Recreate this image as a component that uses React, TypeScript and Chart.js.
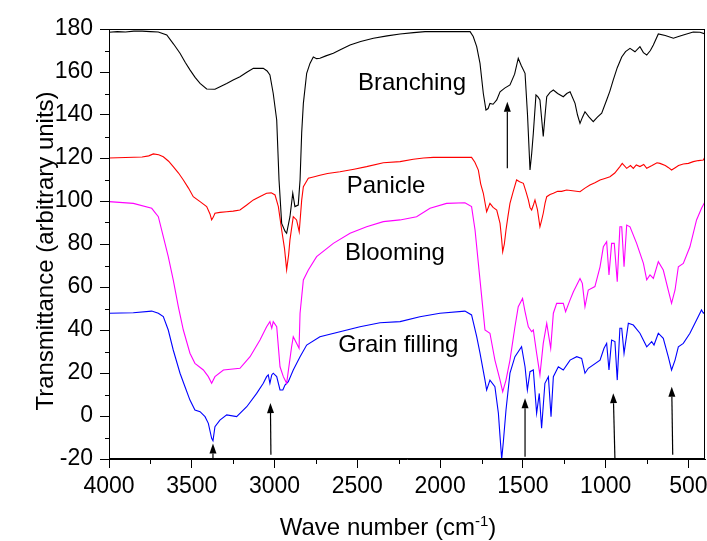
import React, { useEffect, useRef } from 'react';
import { Chart, registerables } from 'chart.js';

Chart.register(...registerables);

const FONT = '"Liberation Sans", Arial, Helvetica, sans-serif';

const xTicks = [4000, 3500, 3000, 2500, 2000, 1500, 1000, 500];
const xMinorTicks = [3750, 3250, 2750, 2250, 1750, 1250, 750];
const yTicks = [-20, 0, 20, 40, 60, 80, 100, 120, 140, 160, 180];
const yMinorTicks = [-10, 10, 30, 50, 70, 90, 110, 130, 150, 170];

const branchingX = [4000, 3950, 3900, 3850, 3800, 3750, 3702, 3651, 3610, 3571, 3540, 3511, 3480, 3450, 3410, 3360, 3320, 3289, 3250, 3209, 3170, 3128, 3068, 3045, 3028, 3008, 2987, 2973, 2957, 2937, 2927, 2907, 2890, 2877, 2857, 2846, 2836, 2826, 2806, 2786, 2766, 2746, 2726, 2690, 2645, 2600, 2544, 2480, 2403, 2320, 2242, 2160, 2091, 2000, 1900, 1819, 1800, 1779, 1759, 1739, 1723, 1710, 1699, 1680, 1658, 1638, 1610, 1578, 1550, 1528, 1510, 1487, 1472, 1457, 1447, 1437, 1421, 1410, 1397, 1377, 1366, 1356, 1336, 1316, 1290, 1256, 1235, 1215, 1185, 1170, 1155, 1140, 1125, 1100, 1075, 1050, 1024, 994, 975, 954, 930, 903, 880, 853, 823, 793, 772, 752, 730, 712, 682, 640, 591, 560, 531, 471, 430, 400];
const branchingY = [178.5, 178.8, 178.6, 179, 179, 178.8, 178.6, 177.2, 173, 168.7, 164.5, 161, 157.5, 154.7, 152.1, 152, 153.5, 154.7, 156.3, 157.8, 159.8, 161.7, 161.7, 160.5, 158.6, 150, 137.7, 109.8, 89.6, 86, 85, 92.7, 103.6, 97.4, 98.1, 109.8, 132, 145.4, 159.4, 164, 167, 166.2, 166.4, 167.5, 168.7, 170.5, 172.6, 174.2, 175.7, 176.8, 177.7, 178.3, 178.8, 178.8, 178.8, 178.8, 176.5, 171.8, 164, 150, 142.3, 143, 145.4, 145, 147, 150.8, 152.5, 154, 159, 166.4, 163, 159.4, 140, 114.4, 122, 131.5, 149.3, 148.5, 147, 130, 140, 148.5, 150.5, 151.6, 150, 148.5, 150, 150.8, 145.4, 140, 136.1, 139, 141.5, 139, 136.9, 139, 140.8, 147, 151, 156.3, 162, 167, 169.5, 171, 169.4, 171.8, 169, 167.9, 170, 172.6, 177.7, 177, 175.7, 176.5, 177.2, 178.6, 178.5, 177.7];

const panicleX = [4000, 3900, 3800, 3760, 3732, 3700, 3672, 3640, 3612, 3580, 3551, 3520, 3491, 3450, 3410, 3390, 3380, 3370, 3360, 3330, 3289, 3250, 3209, 3170, 3128, 3090, 3048, 3020, 2997, 2977, 2957, 2940, 2927, 2915, 2907, 2887, 2867, 2851, 2836, 2826, 2796, 2760, 2726, 2680, 2605, 2520, 2444, 2343, 2242, 2162, 2100, 2041, 1900, 1810, 1790, 1769, 1755, 1739, 1719, 1709, 1699, 1680, 1658, 1638, 1628, 1622, 1612, 1602, 1590, 1578, 1560, 1538, 1520, 1497, 1480, 1467, 1457, 1447, 1437, 1427, 1412, 1397, 1387, 1377, 1366, 1356, 1336, 1316, 1290, 1266, 1236, 1200, 1155, 1125, 1095, 1065, 1034, 1005, 974, 945, 914, 900, 873, 850, 833, 815, 793, 770, 752, 720, 690, 672, 640, 620, 602, 580, 560, 531, 500, 471, 440, 410, 400];
const panicleY = [120, 120.2, 120.5, 121, 121.9, 121.5, 120.6, 118.5, 116, 113, 109.8, 106, 102, 99.7, 97.4, 94, 91.2, 92.5, 94.3, 94.7, 95, 95.3, 95.8, 98, 100.5, 102, 103.6, 103.8, 102.8, 97.4, 86.5, 78, 68, 75, 81.9, 92.7, 91.2, 85.7, 100.5, 106.7, 110.6, 111.3, 112, 112.8, 113.6, 114.8, 116, 117.8, 118.3, 119.4, 120, 120.3, 120.3, 120.3, 118, 114.4, 108, 103.6, 95, 97, 98.9, 97, 95.8, 89.6, 82, 76.4, 80, 86.5, 93, 98.9, 104, 109.8, 109, 108.2, 104, 100.5, 97, 95.8, 98, 100.5, 96, 88, 91, 94.3, 99, 102, 103, 103.6, 104.5, 104.5, 105.1, 104.8, 104.3, 106, 107.4, 108.5, 109.8, 110.5, 111.3, 113, 116, 117.5, 115.2, 116.5, 115.2, 116.8, 116, 117, 115.2, 116.5, 117.8, 117.5, 116.5, 115.5, 114.4, 115.5, 116.5, 117.2, 117.5, 118.3, 118.8, 119.1, 120.6];

const bloomingX = [4000, 3853, 3742, 3702, 3672, 3642, 3612, 3581, 3551, 3511, 3481, 3430, 3400, 3380, 3360, 3309, 3209, 3148, 3088, 3048, 3028, 3017, 3008, 2987, 2967, 2947, 2927, 2897, 2887, 2867, 2852, 2846, 2826, 2796, 2746, 2645, 2544, 2444, 2343, 2242, 2142, 2061, 1961, 1850, 1810, 1789, 1769, 1749, 1729, 1699, 1669, 1638, 1622, 1602, 1578, 1548, 1528, 1502, 1487, 1467, 1447, 1437, 1417, 1397, 1377, 1356, 1332, 1316, 1296, 1256, 1242, 1215, 1195, 1155, 1141, 1125, 1105, 1065, 1034, 1014, 994, 980, 964, 948, 930, 914, 903, 889, 873, 853, 813, 772, 752, 732, 712, 682, 652, 622, 602, 581, 561, 531, 491, 451, 421, 400];
const bloomingY = [99.7, 98.9, 96.6, 92.7, 83.4, 74.1, 63.3, 50.8, 40, 29.2, 24.5, 21.4, 18.3, 15.2, 18.3, 21.4, 22.2, 27.6, 35.3, 41.5, 43.9, 40.8, 43.9, 41.5, 22.9, 18.3, 15.2, 32.2, 36.9, 33.8, 31.5, 47.8, 63.3, 67.9, 74.1, 80.3, 85, 88, 90.4, 91.2, 92.7, 96.6, 98.9, 99.2, 97.4, 86.5, 71, 55.5, 40, 38.5, 26, 16.7, 11.3, 16.7, 26, 41.5, 50.8, 54.7, 48.5, 41.5, 39.2, 40, 29.2, 19.1, 33.8, 43.1, 31.5, 47.8, 52.4, 52.4, 48.5, 54, 57.8, 64, 61.7, 50.8, 58.6, 60.2, 69.4, 78.7, 81.1, 65.6, 80.3, 80.3, 62.5, 88, 88, 69.4, 88.8, 88, 80.3, 71, 63.3, 65.6, 64, 71.8, 67.9, 58.6, 52.4, 58.6, 69.4, 71, 78.7, 91.2, 96.6, 99.7];

const grainX = [4000, 3853, 3742, 3702, 3672, 3642, 3612, 3571, 3541, 3511, 3481, 3450, 3420, 3400, 3380, 3372, 3360, 3330, 3289, 3229, 3168, 3108, 3068, 3048, 3038, 3028, 3017, 3008, 2987, 2967, 2950, 2937, 2917, 2887, 2846, 2806, 2726, 2605, 2484, 2363, 2242, 2122, 2001, 1850, 1810, 1779, 1759, 1729, 1719, 1699, 1669, 1648, 1638, 1628, 1618, 1602, 1578, 1548, 1508, 1487, 1473, 1457, 1437, 1417, 1401, 1387, 1367, 1346, 1330, 1316, 1286, 1256, 1215, 1175, 1145, 1125, 1105, 1034, 1010, 994, 980, 964, 944, 930, 914, 903, 889, 863, 833, 793, 752, 722, 708, 682, 652, 622, 602, 581, 561, 531, 491, 451, 421, 410, 400];
const grainY = [47.8, 48, 48.8, 47.8, 46.2, 40, 30.7, 19.9, 13.6, 7.4, 2.8, 2, -0.3, -3.4, -10.4, -11.5, -5, -1.9, 0.5, -0.3, 4.3, 10.5, 15.2, 18.3, 19.1, 15.2, 19.1, 19.9, 18.3, 12.1, 12.1, 14.4, 16, 21.4, 27.6, 33, 36.9, 39.2, 41.5, 43.4, 43.9, 46.2, 47.8, 48.8, 47, 36.9, 29.2, 16.7, 12.1, 16.7, 13.6, 1.3, -9.6, -20, -12, 2.8, 19.9, 27.6, 32.2, 22.9, 12.1, 20.6, 21.4, 1.3, 10.5, -5.7, 15.2, 18.3, -0.3, 18.3, 22.9, 21.4, 26, 27.6, 26.8, 19.9, 22.2, 26, 31.5, 33.8, 21.4, 35.3, 34.6, 16.7, 40.8, 40.8, 29.2, 43.1, 42.3, 38.5, 32.2, 34.6, 33, 38.5, 36.1, 27.6, 21.4, 26, 32.2, 33.8, 38.5, 44.7, 49.3, 47.8, 48.5];

const seriesNames = ['Branching', 'Panicle', 'Blooming', 'Grain filling'];
const seriesColors = ['#000000', '#ff0000', '#ff00ff', '#0000ff'];

// text annotations: wave number of left edge, transmittance of baseline
const labelWn = [2496, 2564, 2575, 2615];
const labelT = [151.6, 103.6, 72.6, 29.9];

// arrows: [wn at tail, T at tail, wn at head, T at head]
const arrowTailWn = [1594, 3372, 3022, 1487, 944, 595];
const arrowTailT = [115.2, -20, -18, -19, -20, -18];
const arrowHeadWn = [1594, 3372, 3025, 1487, 954, 601];
const arrowHeadT = [146.2, -12.8, 6.0, 8.2, 10.6, 13.6];

const toPoints = (xs: number[], ys: number[]) => xs.map((x, i) => ({ x, y: ys[i] }));

const decorPlugin = {
  id: 'decor',
  afterDraw(chart: any) {
    const { ctx, chartArea: a, scales } = chart;
    const xs = scales.x;
    const ys = scales.y;
    ctx.save();
    // frame
    ctx.strokeStyle = '#000';
    ctx.lineWidth = 1;
    ctx.strokeRect(Math.round(a.left) + 0.5, Math.round(a.top) + 0.5, Math.round(a.right - a.left) - 1, Math.round(a.bottom - a.top) - 1);
    // minor ticks
    ctx.beginPath();
    yMinorTicks.forEach((v) => {
      const y = Math.round(ys.getPixelForValue(v)) + 0.5;
      ctx.moveTo(a.left - 4, y);
      ctx.lineTo(a.left, y);
    });
    xMinorTicks.forEach((v) => {
      const x = Math.round(xs.getPixelForValue(v)) + 0.5;
      ctx.moveTo(x, a.bottom);
      ctx.lineTo(x, a.bottom + 5);
    });
    ctx.stroke();
    // labels
    ctx.fillStyle = '#000';
    ctx.font = `24px ${FONT}`;
    ctx.textAlign = 'left';
    ctx.textBaseline = 'alphabetic';
    seriesNames.forEach((n, i) => {
      ctx.fillText(n, xs.getPixelForValue(labelWn[i]), ys.getPixelForValue(labelT[i]));
    });
    // arrows
    arrowTailWn.forEach((_, i) => {
      const x0 = xs.getPixelForValue(arrowTailWn[i]);
      const y0 = ys.getPixelForValue(arrowTailT[i]);
      const x1 = xs.getPixelForValue(arrowHeadWn[i]);
      const y1 = ys.getPixelForValue(arrowHeadT[i]);
      const ang = Math.atan2(y1 - y0, x1 - x0);
      const hl = 10;
      const hw = 3.5;
      const bx = x1 - hl * Math.cos(ang);
      const by = y1 - hl * Math.sin(ang);
      ctx.beginPath();
      ctx.moveTo(x0, y0);
      ctx.lineTo(bx, by);
      ctx.lineWidth = 1.2;
      ctx.stroke();
      ctx.beginPath();
      ctx.moveTo(x1, y1);
      ctx.lineTo(bx + hw * Math.sin(ang), by - hw * Math.cos(ang));
      ctx.lineTo(bx - hw * Math.sin(ang), by + hw * Math.cos(ang));
      ctx.closePath();
      ctx.fill();
    });
    // y title
    ctx.save();
    ctx.translate(53, 251);
    ctx.rotate(-Math.PI / 2);
    ctx.textAlign = 'center';
    ctx.textBaseline = 'alphabetic';
    ctx.font = `24px ${FONT}`;
    ctx.fillText('Transmittance (arbitrary units)', 0, 0);
    ctx.restore();
    // x title with superscript
    const main = 'Wave number (cm';
    const sup = '-1';
    const end = ')';
    ctx.font = `24px ${FONT}`;
    const w1 = ctx.measureText(main).width;
    const w3 = ctx.measureText(end).width;
    ctx.font = `15px ${FONT}`;
    const w2 = ctx.measureText(sup).width;
    const total = w1 + w2 + w3;
    const cx = 388;
    const base = 535;
    let x = cx - total / 2;
    ctx.textAlign = 'left';
    ctx.font = `24px ${FONT}`;
    ctx.fillText(main, x, base);
    x += w1;
    ctx.font = `15px ${FONT}`;
    ctx.fillText(sup, x, base - 9);
    x += w2;
    ctx.font = `24px ${FONT}`;
    ctx.fillText(end, x, base);
    ctx.restore();
  },
};

export default function App() {
  const ref = useRef<HTMLCanvasElement | null>(null);
  useEffect(() => {
    if (!ref.current) return;
    const datasets = [
      toPoints(branchingX, branchingY),
      toPoints(panicleX, panicleY),
      toPoints(bloomingX, bloomingY),
      toPoints(grainX, grainY),
    ].map((d, i) => ({
      label: seriesNames[i],
      data: d,
      borderColor: seriesColors[i],
      backgroundColor: seriesColors[i],
      borderWidth: 1.1,
      pointRadius: 0,
      tension: 0,
      fill: false,
    }));
    const chart = new Chart(ref.current, {
      type: 'line',
      data: { datasets },
      plugins: [decorPlugin],
      options: {
        animation: false,
        responsive: false,
        parsing: false as any,
        layout: { padding: { top: 29, right: 2, left: 0, bottom: 0 } },
        plugins: { legend: { display: false }, tooltip: { enabled: false } },
        scales: {
          x: {
            type: 'linear',
            reverse: true,
            min: 400,
            max: 4000,
            afterBuildTicks: (s: any) => {
              s.ticks = xTicks.map((v) => ({ value: v }));
            },
            afterFit: (s: any) => {
              s.height = 82;
              s.paddingLeft = 0;
              s.paddingRight = 0;
            },
            ticks: {
              autoSkip: false,
              maxRotation: 0,
              minRotation: 0,
              padding: 5,
              color: '#000',
              font: { family: FONT, size: 23 },
              callback: (v: any) => String(v),
            },
            grid: { drawOnChartArea: false, drawTicks: true, tickLength: 9, color: '#000', lineWidth: 1 },
            border: { display: true, color: '#000', width: 1 },
          },
          y: {
            type: 'linear',
            min: -20,
            max: 180,
            afterBuildTicks: (s: any) => {
              s.ticks = yTicks.map((v) => ({ value: v }));
            },
            afterFit: (s: any) => {
              s.width = 109;
              s.paddingTop = 0;
              s.paddingBottom = 0;
            },
            ticks: {
              autoSkip: false,
              padding: 7,
              color: '#000',
              font: { family: FONT, size: 23 },
              callback: (v: any) => String(v),
            },
            grid: { drawOnChartArea: false, drawTicks: true, tickLength: 9, color: '#000', lineWidth: 1 },
            border: { display: true, color: '#000', width: 1 },
          },
        },
      },
    });
    return () => chart.destroy();
  }, []);
  return (
    <div style={{ position: 'fixed', left: 0, top: 0, width: 707, height: 541, background: '#fff' }}>
      <canvas ref={ref} width={707} height={541} style={{ display: 'block' }} />
    </div>
  );
}
